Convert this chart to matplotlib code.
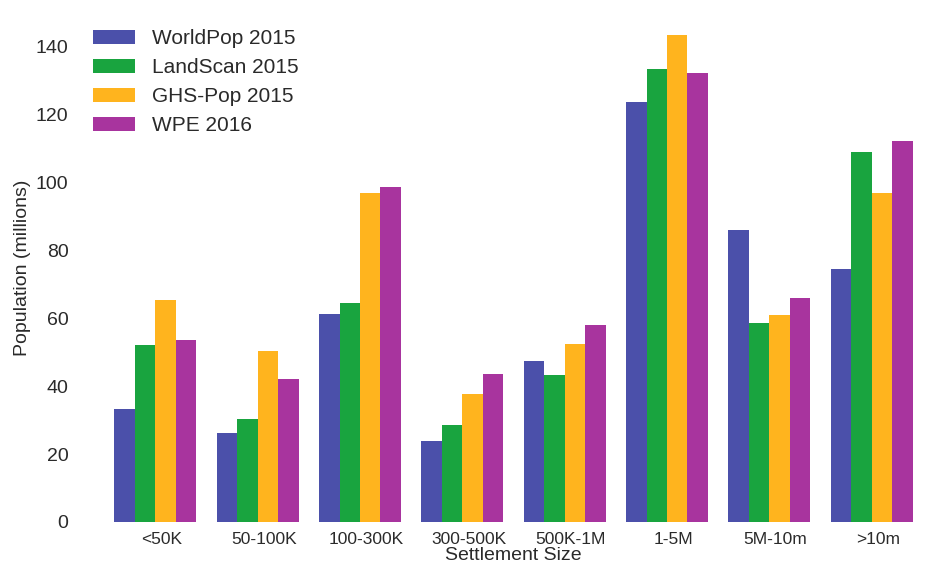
import matplotlib
matplotlib.use("Agg")
import matplotlib.pyplot as plt
import numpy as np

categories = ["<50K", "50-100K", "100-300K", "300-500K", "500K-1M", "1-5M", "5M-10m", ">10m"]
worldpop = [33.3, 26.3, 61.3, 23.9, 47.4, 123.7, 86.0, 74.6]
landscan = [52.2, 30.4, 64.6, 28.6, 43.3, 133.5, 58.7, 109.0]
ghspop = [65.4, 50.4, 97.0, 37.7, 52.5, 143.5, 61.0, 96.9]
wpe = [53.6, 42.1, 98.7, 43.6, 58.1, 132.2, 66.1, 112.3]
series_names = ["WorldPop 2015", "LandScan 2015", "GHS-Pop 2015", "WPE 2016"]
colors = ["#4b50aa", "#19a43f", "#ffb41e", "#a8349e"]

plt.rcParams['font.family'] = ['Liberation Sans', 'DejaVu Sans']
plt.rcParams['font.size'] = 14

fig = plt.figure(figsize=(9.4, 5.65), dpi=100)
ax = fig.add_axes([99/940, 1-522/565, (928-99)/940, (522-13)/565])

x = np.arange(len(categories))
w = 0.2
for i, (vals, name, c) in enumerate(zip([worldpop, landscan, ghspop, wpe], series_names, colors)):
    ax.bar(x + (i - 1.5) * w, vals, width=w, color=c, label=name, linewidth=0)

ax.set_xlim(-0.55, len(categories) - 0.45)
ax.set_ylim(0, 150)
ax.set_yticks(np.arange(0, 141, 20))
ax.set_xticks(x + 0.06)
ax.set_xticklabels(categories)
ax.tick_params(axis='both', length=0, colors='#2a2a2a')
ax.tick_params(axis='y', pad=22, labelsize=14)
ax.tick_params(axis='x', pad=7, labelsize=12.5)
for s in ax.spines.values():
    s.set_visible(False)
ax.set_ylabel("Population (millions)", fontsize=14, color='#2a2a2a')
ax.set_xlabel("Settlement Size", fontsize=14, color='#2a2a2a', labelpad=0)
ax.yaxis.set_label_coords(-68/829, 0.5)

leg = ax.legend(loc='upper left', bbox_to_anchor=(85/940, 1-21/565), bbox_transform=fig.transFigure,
                frameon=False, handlelength=2.0, handleheight=0.63, handletextpad=0.8,
                labelspacing=0.48, fontsize=15, borderaxespad=0)
for t in leg.get_texts():
    t.set_color('#2a2a2a')

fig.savefig("out.png", dpi=100, facecolor='white')
